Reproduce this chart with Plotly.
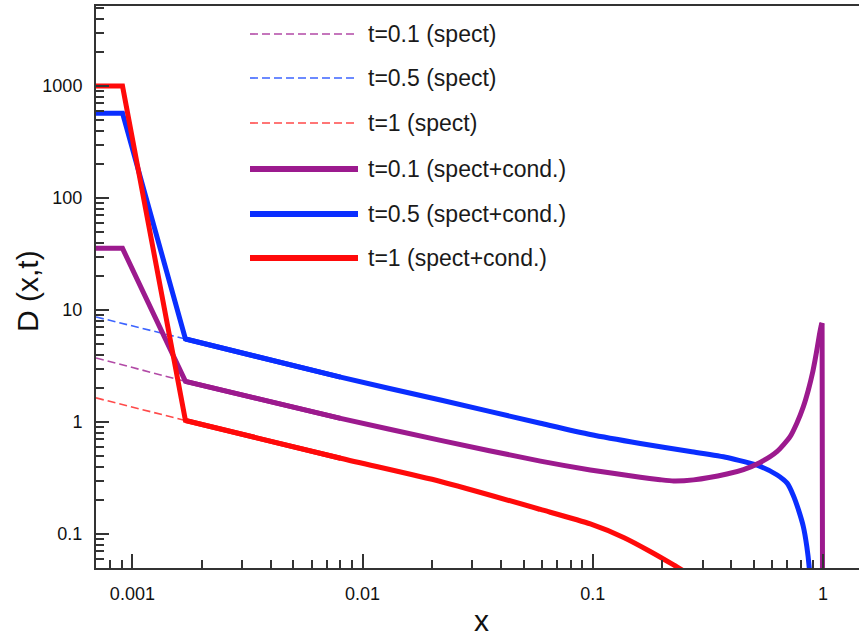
import plotly.graph_objects as go

# ---- D(x,t) curves: spectator + condensate (solid) ----
x_t01 = [0.000695, 0.000906, 0.0017, 0.00802, 0.0218, 0.0592, 0.0975, 0.1607,
         0.196, 0.2243, 0.2737, 0.382, 0.451, 0.533, 0.630, 0.719, 0.769, 0.821,
         0.863, 0.899, 0.923, 0.945, 0.9636, 0.983, 0.990, 0.997]
d_t01 = [35.5, 35.5, 2.3, 1.077, 0.684, 0.447, 0.373, 0.321,
         0.305, 0.297, 0.304, 0.343, 0.376, 0.435, 0.543, 0.739, 0.974, 1.37,
         1.93, 2.72, 3.58, 4.70, 5.98, 7.34, 7.6, 0.001]

x_t05 = [0.000695, 0.000906, 0.0017, 0.00802, 0.0218, 0.0592, 0.0975, 0.1607,
         0.265, 0.383, 0.533, 0.632, 0.698, 0.741, 0.782, 0.821, 0.850, 0.870,
         0.885]
d_t05 = [572, 572, 5.5, 2.51, 1.57, 0.974, 0.773, 0.643,
         0.545, 0.482, 0.401, 0.336, 0.284, 0.223, 0.164, 0.116, 0.077, 0.051,
         0.03]

x_t1 = [0.000695, 0.000906, 0.0017, 0.00802, 0.0218, 0.0592, 0.0975, 0.136,
        0.1775, 0.2243, 0.265]
d_t1 = [1000, 1000, 1.03, 0.474, 0.294, 0.1655, 0.1228, 0.0931,
        0.0698, 0.0529, 0.043]

# ---- spectator-only curves (dashed), visible at small x ----
x_spect = [0.000695, 0.0017]
d_spect_t01 = [3.73, 2.3]
d_spect_t05 = [8.66, 5.5]
d_spect_t1 = [1.64, 1.03]

# ---- axis ticks ----
x_tickvals = [0.001, 0.01, 0.1, 1]
x_ticktext = ["0.001", "0.01", "0.1", "1"]
y_tickvals = [0.1, 1, 10, 100, 1000]
y_ticktext = ["0.1", "1", "10", "100", "1000"]

legend_labels = ["t=0.1 (spect)", "t=0.5 (spect)", "t=1 (spect)",
                 "t=0.1 (spect+cond.)", "t=0.5 (spect+cond.)", "t=1 (spect+cond.)"]

PURPLE = "#9C1A8E"
BLUE = "#0A2EFF"
RED = "#FF0A0A"
PURPLE_D = "#B24AA6"
BLUE_D = "#3C64FF"
RED_D = "#FF4A4A"
AXIS = "#333333"

fig = go.Figure()

dash_style = "8px,4px"
for xs, ys, col in [(x_spect, d_spect_t01, PURPLE_D),
                    (x_spect, d_spect_t05, BLUE_D),
                    (x_spect, d_spect_t1, RED_D)]:
    fig.add_trace(go.Scatter(x=xs, y=ys, mode="lines", showlegend=False,
                             line=dict(color=col, width=1.6, dash=dash_style)))


def add_curve(xs, ys, col, sharp_tail=False):
    """Plateau + steep drop drawn straight, smooth body drawn as a spline,
    optional sharp end segment drawn straight."""
    line = dict(color=col, width=5)
    fig.add_trace(go.Scatter(x=xs[:4], y=ys[:4], mode="lines", showlegend=False,
                             line=dict(line, shape="linear")))
    end = len(xs) - 1 if sharp_tail else len(xs)
    fig.add_trace(go.Scatter(x=xs[2:end], y=ys[2:end], mode="lines", showlegend=False,
                             line=dict(line, shape="spline", smoothing=0.6)))
    if sharp_tail:
        fig.add_trace(go.Scatter(x=xs[-3:], y=ys[-3:], mode="lines", showlegend=False,
                                 line=dict(line, shape="linear")))


add_curve(x_t05, d_t05, BLUE)
add_curve(x_t01, d_t01, PURPLE, sharp_tail=True)
add_curve(x_t1, d_t1, RED)


# minor tick positions (2..9 within each decade)
def minor_vals(lo_exp, hi_exp):
    vals = []
    for e in range(lo_exp, hi_exp + 1):
        for k in range(2, 10):
            vals.append(k * 10.0 ** e)
    return vals


L, R, T, B = 96, 0, 6, 72
W, H = 859, 640
pw, ph = W - L - R, H - T - B

fig.update_xaxes(
    type="log", range=[-3.158, 0.156],
    showgrid=False, zeroline=False,
    showline=True, linecolor=AXIS, linewidth=2, mirror=True,
    ticks="inside", ticklen=14, tickwidth=2, tickcolor=AXIS,
    tickmode="array", tickvals=x_tickvals, ticktext=x_ticktext,
    tickfont=dict(family="Liberation Sans", size=18, color="#111"),
    ticklabelstandoff=8,
    minor=dict(ticks="inside", ticklen=8, tickwidth=1.6, tickcolor=AXIS,
               tickvals=minor_vals(-4, 0), showgrid=False),
)
fig.update_yaxes(
    type="log", range=[-1.304, 3.714],
    showgrid=False, zeroline=False,
    showline=True, linecolor=AXIS, linewidth=2,
    ticks="inside", ticklen=13, tickwidth=2, tickcolor=AXIS,
    tickmode="array", tickvals=y_tickvals, ticktext=y_ticktext,
    tickfont=dict(family="Liberation Sans", size=18, color="#111"),
    ticklabelstandoff=8,
    minor=dict(ticks="inside", ticklen=8, tickwidth=1.6, tickcolor=AXIS,
               tickvals=minor_vals(-2, 3), showgrid=False),
)


def px_x(p):
    return (p - L) / pw


def px_y(p):
    return (H - B - p) / ph


# legend drawn inside the plot area
legend_rows = [34, 78, 123, 169, 214, 258]
legend_styles = [(PURPLE_D, 1.6, "dash"), (BLUE_D, 1.6, "dash"), (RED_D, 1.6, "dash"),
                 (PURPLE, 6, "solid"), (BLUE, 6, "solid"), (RED, 6, "solid")]
shapes = []
annotations = []
for row, (col, w, d), label in zip(legend_rows, legend_styles, legend_labels):
    shapes.append(dict(type="line", xref="paper", yref="paper",
                       x0=px_x(250), x1=px_x(358), y0=px_y(row), y1=px_y(row),
                       line=dict(color=col, width=w, dash=dash_style if d == "dash" else "solid")))
    annotations.append(dict(xref="paper", yref="paper", x=px_x(366), y=px_y(row),
                            xanchor="left", yanchor="middle", showarrow=False,
                            text=label,
                            font=dict(family="Liberation Sans", size=23, color="#1a1a1a")))

# axis titles
annotations.append(dict(xref="paper", yref="paper", x=px_x(27), y=px_y(291),
                        xanchor="center", yanchor="middle", showarrow=False,
                        text="D (x,t)", textangle=-90,
                        font=dict(family="Liberation Sans", size=30, color="#111")))
annotations.append(dict(xref="paper", yref="paper", x=px_x(481), y=px_y(639),
                        xanchor="center", yanchor="bottom", showarrow=False,
                        text="x",
                        font=dict(family="Liberation Sans", size=30, color="#111")))

fig.update_layout(
    width=W, height=H,
    margin=dict(l=L, r=R, t=T, b=B),
    plot_bgcolor="white", paper_bgcolor="white",
    shapes=shapes, annotations=annotations,
    showlegend=False,
)

fig.write_html("out.html")
